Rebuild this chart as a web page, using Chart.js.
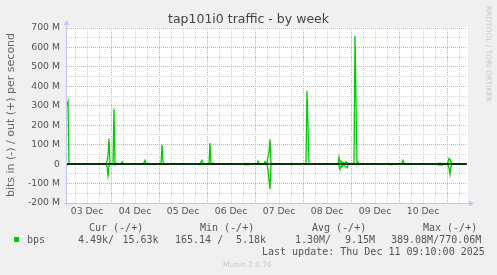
<!DOCTYPE html>
<html lang="en">
<head>
<meta charset="UTF-8">
<title>tap101i0 traffic - by week</title>
<script src="https://cdn.jsdelivr.net/npm/chart.js@4"></script>
<style>
  body { margin: 0; background: #f0f0f0; }
  #wrap { position: relative; width: 497px; height: 275px; overflow: hidden; }
  canvas { position: absolute; left: 0; top: 0; }
  .txt { position: absolute; white-space: pre; color: #555; font-family: 'DejaVu Sans', sans-serif; }
  .mono { font-family: 'DejaVu Sans Mono', monospace; font-size: 10px; line-height: 12px; }
  #title { left: 0; width: 497px; text-align: center; top: 11px; font-size: 12.5px; line-height: 15px; color: #444; }
  #ytitle { left: -89px; top: 108px; width: 200px; text-align: center; font-size: 11px; line-height: 14px; color: #666; transform: rotate(-90deg); }
  #mark { left: 438px; top: 49px; width: 100px; text-align: center; font-size: 7.5px; line-height: 10px; color: #c8c8c8; transform: rotate(90deg); }
  #swatch { position: absolute; left: 14px; top: 237px; width: 5px; height: 5px; background: #00cc00; }
  #munin { left: 223px; top: 260px; font-size: 7.5px; line-height: 9px; color: #c8c8c8; }
</style>
</head>
<body>
<div id="wrap">
  <canvas id="chart" width="497" height="275"></canvas>
  <div class="txt" id="title">tap101i0 traffic - by week</div>
  <div class="txt" id="ytitle">bits in (-) / out (+) per second</div>
  <div class="txt" id="mark">RRDTOOL / TOBI OETIKER</div>

  <div class="txt mono" style="left:89px;top:222px">Cur (-/+)</div>
  <div class="txt mono" style="left:200px;top:222px">Min (-/+)</div>
  <div class="txt mono" style="left:312px;top:222px">Avg (-/+)</div>
  <div class="txt mono" style="left:423px;top:222px">Max (-/+)</div>

  <div id="swatch"></div>
  <div class="txt mono" style="left:27px;top:233.5px">bps</div>
  <div class="txt mono" style="left:78px;top:233.5px">4.49k/</div>
  <div class="txt mono" style="left:122.5px;top:233.5px">15.63k</div>
  <div class="txt mono" style="left:175px;top:233.5px">165.14 /</div>
  <div class="txt mono" style="left:236px;top:233.5px">5.18k</div>
  <div class="txt mono" style="left:295px;top:233.5px">1.30M/</div>
  <div class="txt mono" style="left:345px;top:233.5px">9.15M</div>
  <div class="txt mono" style="left:391px;top:233.5px">389.08M/770.06M</div>

  <div class="txt mono" style="left:262px;top:246px">Last update: Thu Dec 11 09:10:00 2025</div>
  <div class="txt" id="munin">Munin 2.0.76</div>
</div>

<script>
// x axis is in 30 minute slots, slot 0 = left edge of the graph
const slotsPerDay = 48;
const firstMidnight = 44;        // slot of 04 Dec 00:00
const dayLabels = ['03 Dec', '04 Dec', '05 Dec', '06 Dec', '07 Dec', '08 Dec', '09 Dec', '10 Dec'];

// traffic in Mbit/s
const slots = [
  0, 1, 2,
  39, 40, 41, 42, 43,
  46, 47, 48, 49, 50,
  54, 55, 56,
  76, 77, 78, 79, 80,
  86, 87, 88,
  94, 95, 96, 97,
  106, 107, 108,
  131, 132, 133, 134, 135, 136, 137,
  142, 143, 144, 146, 147,
  177, 178, 179, 180, 181, 182, 183,
  190, 191, 192,
  197, 198, 199, 200, 201, 202, 203, 204,
  223, 224, 225, 226, 227,
  239, 240, 241, 242,
  271, 272, 273, 274, 275, 276, 277, 278, 279, 280, 281,
  287, 288, 289, 290, 291, 292,
  321, 322, 323, 324, 325, 326,
  334, 335, 336, 337, 338,
  370, 371, 372, 373, 374, 375, 376, 377,
  380, 381, 382, 383, 384, 385,
  391, 392, 393,
  399
];
const outM = [
  300, 320, 0,
  0, 15, 40, 132, 0,
  0, 286, 0, 5, 0,
  0, 12, 0,
  0, 8, 20, 5, 0,
  0, 0, 0,
  0, 98, 15, 0,
  0, 5, 0,
  0, 0, 0, 10, 20, 8, 0,
  0, 108, 0, 5, 0,
  0, 3, 2, 3, 4, 3, 0,
  0, 15, 0,
  0, 12, 5, 8, 40, 60, 128, 0,
  0, 3, 2, 3, 0,
  0, 377, 190, 0,
  0, 35, 10, 15, 5, 10, 3, 5, 12, 8, 0,
  0, 660, 330, 0, 8, 0,
  0, 3, 2, 3, 3, 0,
  0, 8, 20, 5, 0,
  0, 4, 3, 5, 4, 3, 4, 0,
  0, 10, 30, 25, 10, 0,
  0, 3, 0,
  0
];
const inM = [
  5, 3, 0,
  0, 10, 60, 10, 0,
  0, 0, 5, 0, 0,
  0, 0, 0,
  0, 0, 0, 0, 0,
  0, 3, 0,
  0, 0, 0, 0,
  0, 0, 0,
  0, 3, 0, 0, 0, 0, 0,
  0, 0, 0, 0, 0,
  0, 3, 4, 3, 2, 3, 0,
  0, 0, 0,
  0, 2, 0, 0, 30, 80, 129, 0,
  0, 3, 3, 2, 0,
  0, 0, 0, 0,
  0, 10, 27, 8, 15, 5, 3, 10, 15, 20, 0,
  0, 0, 0, 0, 0, 0,
  0, 3, 3, 2, 3, 0,
  0, 0, 0, 0, 0,
  0, 4, 5, 3, 4, 5, 3, 0,
  0, 5, 20, 53, 10, 0,
  0, 0, 0,
  0
];

const green = '#00cc00';
const majorGrid = '#eaa2a2';
const minorGrid = '#d2d2d2';
const axisColor = '#c4c4f2';

const isMidnight = v => (v - firstMidnight) % slotsPerDay === 0;
const isNoon = v => (v - firstMidnight + slotsPerDay / 2) % slotsPerDay === 0;

// white plot area, black zero line, rrdtool style axis arrows
const munin = {
  id: 'munin',
  beforeDraw(chart) {
    const { ctx, chartArea: a } = chart;
    ctx.save();
    ctx.fillStyle = '#fff';
    ctx.fillRect(a.left, a.top - 1, a.right - a.left + 1, a.bottom - a.top + 1);
    ctx.restore();
  },
  afterDatasetsDraw(chart) {
    const { ctx, chartArea: a, scales } = chart;
    const y0 = Math.round(scales.y.getPixelForValue(0));
    const yb = Math.round(a.bottom) + 0.5;
    const xl = Math.round(a.left) - 0.5;
    ctx.save();
    ctx.lineWidth = 1.6;
    ctx.strokeStyle = '#000';
    ctx.beginPath();
    ctx.moveTo(a.left, y0);
    ctx.lineTo(a.right, y0);
    ctx.stroke();

    ctx.lineWidth = 1;
    ctx.strokeStyle = axisColor;
    ctx.fillStyle = axisColor;
    ctx.beginPath();
    ctx.moveTo(xl, a.bottom + 3);
    ctx.lineTo(xl, a.top - 4);
    ctx.moveTo(a.left - 3, yb);
    ctx.lineTo(a.right + 2, yb);
    ctx.stroke();
    ctx.beginPath();
    ctx.moveTo(xl, a.top - 8);
    ctx.lineTo(xl - 3, a.top - 3);
    ctx.lineTo(xl + 3, a.top - 3);
    ctx.fill();
    ctx.beginPath();
    ctx.moveTo(a.right + 7, yb);
    ctx.lineTo(a.right + 2, yb - 3);
    ctx.lineTo(a.right + 2, yb + 3);
    ctx.fill();
    ctx.restore();
  }
};

Chart.defaults.font.family = "'DejaVu Sans', sans-serif";

new Chart(document.getElementById('chart'), {
  type: 'line',
  data: {
    datasets: [
      {
        label: 'in',
        data: slots.map((s, i) => ({ x: s, y: -inM[i] })),
        borderColor: green,
        borderWidth: 1.3,
        pointRadius: 0,
        tension: 0,
        fill: false
      },
      {
        label: 'out',
        data: slots.map((s, i) => ({ x: s, y: outM[i] })),
        borderColor: green,
        borderWidth: 1.3,
        pointRadius: 0,
        tension: 0,
        fill: false
      }
    ]
  },
  options: {
    responsive: false,
    animation: false,
    devicePixelRatio: 1,
    layout: { padding: { top: 28, right: 30, left: 0, bottom: 0 } },
    plugins: { legend: { display: false }, tooltip: { enabled: false }, title: { display: false } },
    scales: {
      x: {
        type: 'linear',
        min: 0,
        max: 400,
        afterBuildTicks: scale => {
          const ticks = [];
          for (let v = firstMidnight % 12; v < 400; v += 12) ticks.push({ value: v });
          scale.ticks = ticks;
        },
        afterFit: scale => { scale.height = 72; },
        grid: {
          color: c => isMidnight(c.tick.value) ? majorGrid : minorGrid,
          drawTicks: false
        },
        border: { display: false, dash: [1, 1] },
        ticks: {
          autoSkip: false,
          maxRotation: 0,
          padding: 3,
          color: '#555',
          font: { size: 9.2 },
          callback: v => isNoon(v) ? dayLabels[(v - firstMidnight + slotsPerDay / 2) / slotsPerDay] : ''
        }
      },
      y: {
        min: -200,
        max: 700,
        afterFit: scale => { scale.width = 67; },
        grid: {
          color: c => c.tick.value === 0 ? 'rgba(0,0,0,0)' : (c.tick.value % 100 ? minorGrid : majorGrid),
          drawTicks: false
        },
        border: { display: false, dash: [1, 1] },
        ticks: {
          stepSize: 50,
          autoSkip: false,
          padding: 7,
          color: '#555',
          font: { size: 9.3 },
          callback: v => v % 100 ? '' : (v === 0 ? '0' : v + ' M')
        }
      }
    }
  },
  plugins: [munin]
});
</script>
</body>
</html>
